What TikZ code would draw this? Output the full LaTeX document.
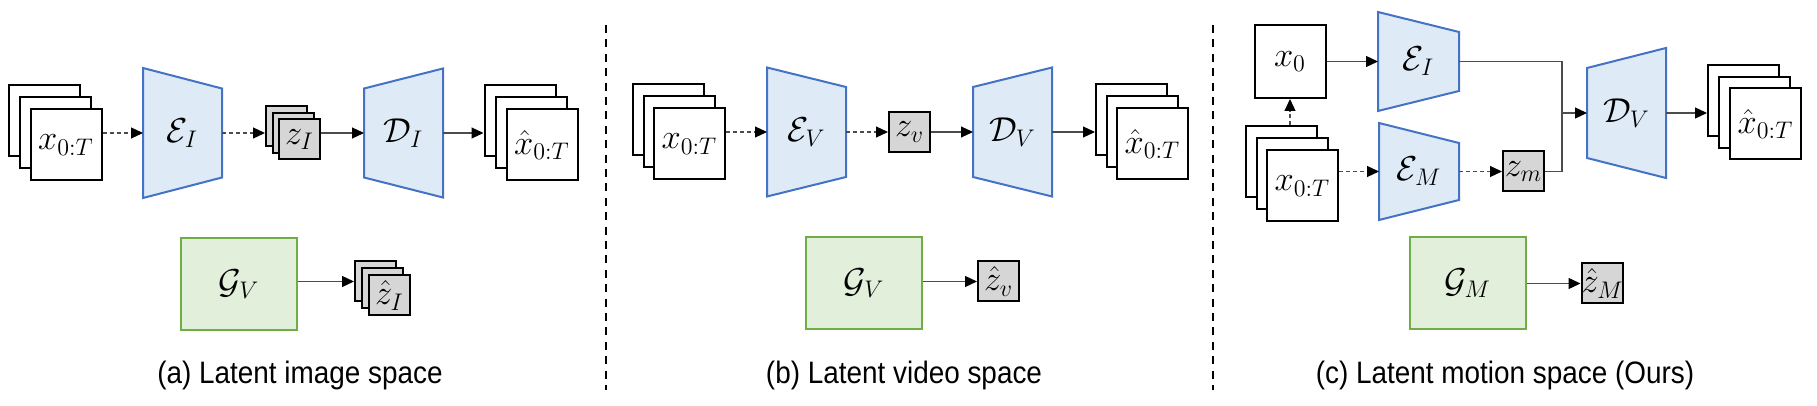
\documentclass[tikz,border=0pt]{standalone}
\usepackage{fontspec}
\usepackage{amsmath}
\newfontfamily\capfont[FakeStretch=0.9]{Liberation Sans}
\usetikzlibrary{arrows.meta}
\definecolor{encfill}{HTML}{DEEBF7}
\definecolor{encdraw}{HTML}{4472C4}
\definecolor{genfill}{HTML}{E2EFDA}
\definecolor{gendraw}{HTML}{70AD47}
\definecolor{zfill}{HTML}{D6D6D6}
\tikzset{
  frame/.style={draw=black, line width=1pt, fill=white, inner sep=0pt, minimum width=35.5pt, minimum height=35.5pt},
  zbox/.style={draw=black, line width=1pt, fill=zfill, inner sep=0pt, minimum width=20.5pt, minimum height=20pt},
  enc/.style={draw=encdraw, fill=encfill, line width=1pt, line join=miter},
  gen/.style={draw=gendraw, fill=genfill, line width=1pt, inner sep=0pt, minimum width=58pt, minimum height=46pt},
  lab/.style={font=\fontsize{16.5}{20}\selectfont, inner sep=0pt},
  wire/.style={draw=black!70, line width=0.6pt},
  conn/.style={wire, -{Triangle[length=6pt,width=5.5pt,color=black]}},
  dconn/.style={conn, dash pattern=on 2pt off 1.5pt},
  divider/.style={line width=1pt, dash pattern=on 4pt off 3.2pt},
  captext/.style={font=\capfont\fontsize{15.5}{18}\selectfont, anchor=base, inner sep=0pt},
}
% name, cx, cy, style, label, dx, dy
\newcommand\drawstack[7]{%
  \node[#4] (#1b) at (#2-#6,#3-#7) {};
  \node[#4] (#1m) at (#2,#3) {};
  \node[#4,lab] (#1f) at (#2+#6,#3+#7) {$#5$};
}
% name, xl, xr, cy, half height left, half height right, label
\newcommand\drawtrap[7]{%
  \draw[enc] (#2,#4-#5) -- (#3,#4-#6) -- (#3,#4+#6) -- (#2,#4+#5) -- cycle;
  \coordinate (#1W) at (#2,#4);
  \coordinate (#1E) at (#3,#4);
  \node[lab] (#1) at ({(#2+#3)/2},#4) {$#7$};
}
\begin{document}
\begin{tikzpicture}[x=0.5pt,y=-0.5pt]
\useasboundingbox (0,0) rectangle (1817,406);

% ---------- (a) latent image space ----------
\drawstack{sain}{55}{133}{frame}{x_{0:T}}{11}{12}
\drawtrap{eaI}{143}{222}{133}{65}{44.5}{\mathcal{E}_I}
\drawstack{za}{293}{133}{zbox}{z_I}{6.5}{6.5}
\drawtrap{daI}{364}{443}{133}{44.5}{64.5}{\mathcal{D}_I}
\drawstack{saout}{531}{133}{frame}{\hat{x}_{0:T}}{11}{12}
\node[gen,lab] (gaV) at (239,284) {$\mathcal{G}_V$};
\drawstack{zha}{382.5}{288.5}{zbox}{\hat{z}_I}{7}{7}

\draw[dconn] (sainf.east |- eaIW) -- (eaIW);
\draw[dconn] (eaIE) -- (zab.west |- eaIE);
\draw[conn] (zaf.east |- daIW) -- (daIW);
\draw[conn] (daIE) -- (saoutb.west |- daIE);
\draw[conn] (gaV.east |- zhab.west) -- (zhab.west);

% ---------- (b) latent video space ----------
\drawstack{sbin}{679}{132}{frame}{x_{0:T}}{10.5}{12}
\drawtrap{ebV}{767}{846}{132}{64.5}{45}{\mathcal{E}_V}
\node[zbox,lab] (zv) at (909.5,132) {$z_v$};
\drawtrap{dbV}{973}{1052}{132}{45}{64.5}{\mathcal{D}_V}
\drawstack{sbout}{1142}{132}{frame}{\hat{x}_{0:T}}{10.5}{12}
\node[gen,lab] (gbV) at (864,283) {$\mathcal{G}_V$};
\node[zbox,lab] (zhv) at (998.5,281.5) {$\hat{z}_v$};

\draw[dconn] (sbinf.east |- ebVW) -- (ebVW);
\draw[dconn] (ebVE) -- (zv.west);
\draw[conn] (zv.east) -- (dbVW);
\draw[conn] (dbVE) -- (sboutb.west |- dbVE);
\draw[conn] (gbV.east |- zhv.west) -- (zhv.west);

% ---------- (c) latent motion space ----------
\node[frame,lab,minimum height=36.5pt] (x0) at (1290,61.5) {$x_0$};
\drawtrap{ecI}{1378}{1459}{61.5}{49.5}{29.5}{\mathcal{E}_I}
\drawstack{scin}{1292}{174}{frame}{x_{0:T}}{10.5}{12}
\drawtrap{ecM}{1379}{1459}{171.5}{48.5}{28.5}{\mathcal{E}_M}
\node[zbox,lab] (zm) at (1523.5,171.5) {$z_m$};
\drawtrap{dcV}{1587}{1666}{113}{45}{65}{\mathcal{D}_V}
\drawstack{scout}{1754.5}{112.5}{frame}{\hat{x}_{0:T}}{11}{11.5}
\node[gen,lab] (gcM) at (1467.5,283) {$\mathcal{G}_M$};
\node[zbox,lab] (zhm) at (1602.5,283.5) {$\hat{z}_M$};

\coordinate (j1) at (1562,61.5);
\coordinate (j2) at (j1 |- zm.east);
\coordinate (jm) at (j1 |- dcVW);

\draw[conn] (x0.east |- ecIW) -- (ecIW);
\draw[dconn] (x0.south |- scinb.north) -- (x0.south);
\draw[dconn] (scinf.east |- ecMW) -- (ecMW);
\draw[dconn] (ecME) -- (zm.west);
\draw[wire] (ecIE) -- (j1) -- (j2) -- (zm.east);
\draw[conn] (jm) -- (dcVW);
\draw[conn] (dcVE) -- (scoutb.west |- dcVE);
\draw[conn] (gcM.east |- zhm.west) -- (zhm.west);

% ---------- dividers ----------
\coordinate (d1t) at (606,25);
\coordinate (d1b) at (606,390);
\coordinate (d2t) at (1213,25);
\coordinate (d2b) at (1213,390);
\draw[divider] (d1t) -- (d1b);
\draw[divider] (d2t) -- (d2b);

% ---------- captions ----------
\node[captext] (capa) at (300,384) {(a) Latent image space};
\node[captext] (capb) at (904,384) {(b) Latent video space};
\node[captext] (capc) at (1505,384) {(c) Latent motion space (Ours)};
\end{tikzpicture}
\end{document}
